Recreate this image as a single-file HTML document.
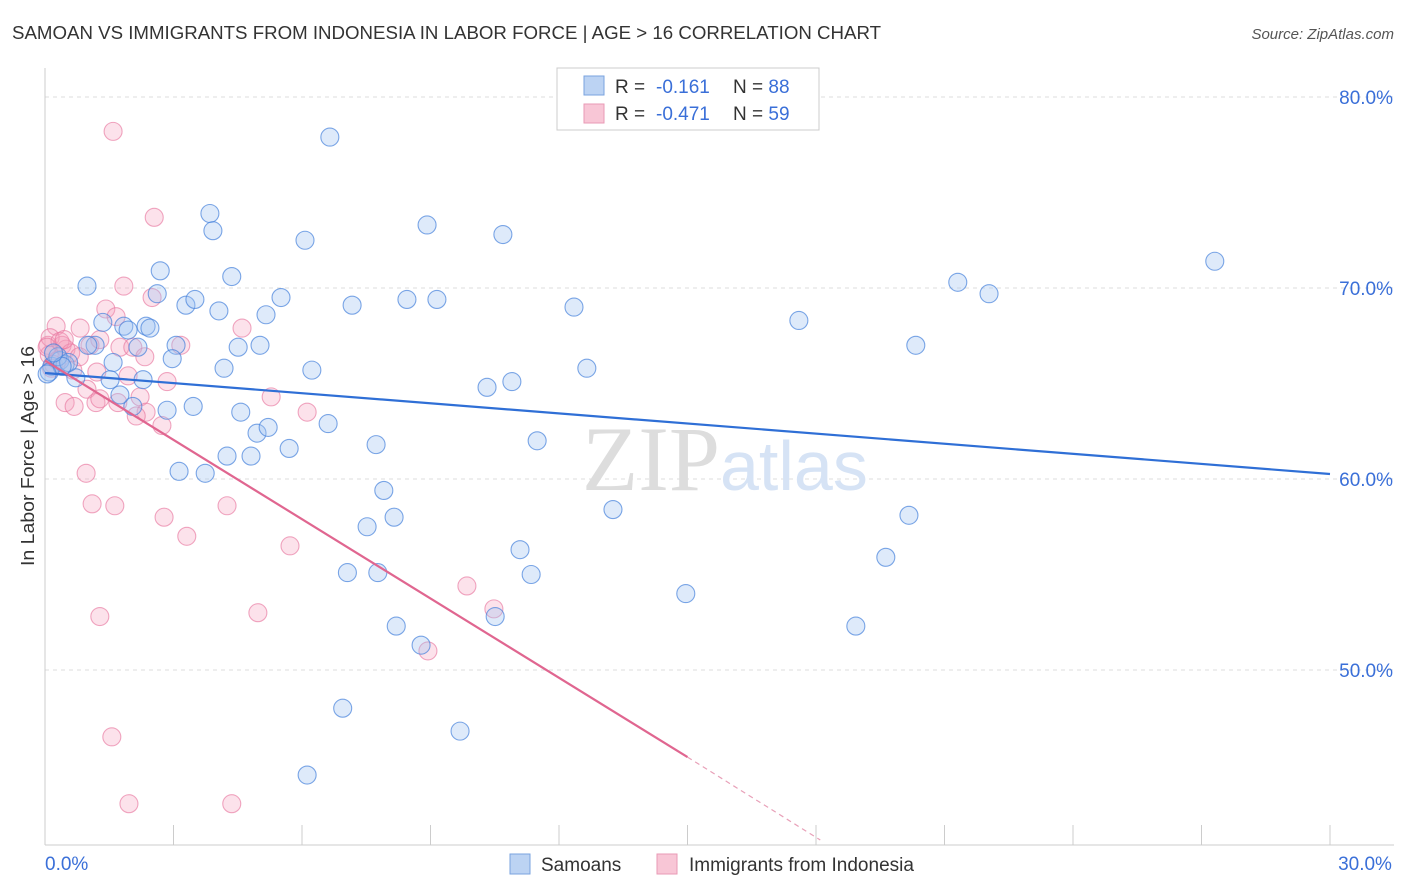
<!DOCTYPE html>
<html><head><meta charset="utf-8"><style>
body{margin:0;background:#fff;font-family:"Liberation Sans",sans-serif}
svg{display:block}
</style></head><body>
<svg id="chart" width="1406" height="892">
<text x="12" y="39" font-size="18" fill="#333" textLength="869" lengthAdjust="spacingAndGlyphs">SAMOAN VS IMMIGRANTS FROM INDONESIA IN LABOR FORCE | AGE &gt; 16 CORRELATION CHART</text>
<text x="1394" y="39" font-size="15" fill="#555" font-style="italic" text-anchor="end">Source: ZipAtlas.com</text>
<text transform="translate(34,456) rotate(-90)" font-size="18" fill="#333" text-anchor="middle" textLength="220" lengthAdjust="spacingAndGlyphs">In Labor Force | Age &gt; 16</text>
<g id="grid"></g>
<text x="720" y="490" font-size="92" fill="#ddd" text-anchor="end" font-family="Liberation Serif">ZIP</text>
<text x="720" y="490" font-size="70" fill="#d6e3f5">atlas</text>
<g id="pts"></g>
<g id="lines"></g>
<g>
<rect x="557" y="68" width="262" height="62" fill="#fff" stroke="#ccc"/>
<rect x="584" y="76" width="20" height="19" fill="#bcd3f3" stroke="#7aa3df"/>
<rect x="584" y="104" width="20" height="19" fill="#f8c6d6" stroke="#e99ab5"/>
<text x="615" y="93" font-size="19" fill="#333">R = <tspan x="656" fill="#3a6fd8">-0.161</tspan><tspan x="733">N = </tspan><tspan fill="#3a6fd8">88</tspan></text>
<text x="615" y="120" font-size="19" fill="#333">R = <tspan x="656" fill="#3a6fd8">-0.471</tspan><tspan x="733">N = </tspan><tspan fill="#3a6fd8">59</tspan></text>
</g>
<g>
<rect x="510" y="854" width="20" height="20" fill="#bcd3f3" stroke="#7aa3df"/>
<text x="541" y="871" font-size="19" fill="#333">Samoans</text>
<rect x="657" y="854" width="20" height="20" fill="#f8c6d6" stroke="#e99ab5"/>
<text x="689" y="871" font-size="19" fill="#333">Immigrants from Indonesia</text>
</g>
</svg>
<script>
const xTicks=[0,3,6,9,12,15,18,21,24,27,30];
const yTicks=[50,60,70,80];
const yTickLabels=["50.0%","60.0%","70.0%","80.0%"];
const xLabels=["0.0%","30.0%"];
const blueX=[0.16,0.35,0.47,0.98,0.72,1.17,1.35,1.59,1.52,1.84,1.94,2.17,2.29,2.36,2.45,2.05,1.75,2.69,2.62,3.06,2.97,2.85,3.46,3.13,3.74,3.29,3.50,3.85,3.92,4.06,4.36,4.18,4.51,4.57,4.25,4.81,5.02,5.16,5.51,4.95,5.21,5.70,6.07,6.23,6.65,6.61,7.17,7.06,6.95,6.12,7.73,7.91,7.52,7.77,8.15,8.20,8.45,8.78,8.92,9.15,9.69,10.32,10.51,10.69,10.90,11.09,11.35,11.49,12.35,12.65,13.26,14.96,14.01,17.60,18.93,19.63,20.17,20.33,21.31,22.04,27.31,0.1,0.3,0.55,0.4,0.2,1.0,0.05];
const blueY=[65.9,66.2,66.0,70.1,65.3,67.0,68.2,66.1,65.2,68.0,67.8,66.9,65.2,68.0,67.9,63.8,64.4,70.9,69.7,67.0,66.3,63.6,63.8,60.4,60.3,69.1,69.4,73.9,73.0,68.8,70.6,65.8,66.9,63.5,61.2,61.2,67.0,68.6,69.5,62.4,62.7,61.6,72.5,65.7,77.9,62.9,69.1,55.1,48.0,44.5,61.8,59.4,57.5,55.1,58.0,52.3,69.4,51.3,73.3,69.4,46.8,64.8,52.8,72.8,65.1,56.3,55.0,62.0,69.0,65.8,58.4,54.0,79.0,68.3,52.3,55.9,58.1,67.0,70.3,69.7,71.4,65.6,66.4,66.1,65.9,66.6,67.0,65.5];
const pinkX=[1.59,2.55,1.84,2.50,1.42,1.66,0.26,0.82,4.60,0.07,0.40,1.05,1.28,1.75,2.05,3.17,2.33,0.65,1.21,1.94,2.85,0.98,2.22,0.47,0.68,1.19,1.70,2.36,2.13,2.73,5.28,6.12,0.96,1.10,1.63,2.78,3.31,4.25,5.72,4.97,1.28,9.85,10.48,8.94,1.56,1.96,4.36,0.12,0.28,0.49,1.28,0.1,0.2,0.35,0.6,0.15,0.45,0.8,0.05];
const pinkY=[78.2,73.7,70.1,69.5,68.9,68.5,68.0,67.9,67.9,67.0,67.0,67.0,67.3,66.9,66.9,67.0,66.4,65.7,65.6,65.4,65.1,64.7,64.3,64.0,63.8,64.0,64.0,63.5,63.3,62.8,64.3,63.5,60.3,58.7,58.6,58.0,57.0,58.6,56.5,53.0,52.8,54.4,53.2,51.0,46.5,43.0,43.0,67.4,66.2,66.8,64.2,66.5,66.0,67.2,66.6,65.8,67.3,66.4,66.9];
const blueTrend=[65.55,60.26];
const pinkTrend=[66.2,45.44,41.1];
const pinkTrendX=[0,15,18.1];
const NS="http://www.w3.org/2000/svg";
const X=v=>45+v/30*1285, Y=v=>97+(80-v)*19.1;
function mk(t,a,p){const e=document.createElementNS(NS,t);for(const k in a)e.setAttribute(k,a[k]);p.appendChild(e);return e;}
const g=document.getElementById('grid');
yTicks.forEach((t,i)=>{
 const l=mk('line',{x1:45,x2:1394,y1:Y(t),y2:Y(t),stroke:'#ddd','stroke-dasharray':'4,4'},g);
 
 
 const tx=mk('text',{x:1393,y:Y(t)+7,'font-size':19,fill:'#3a6fd8','text-anchor':'end'},g);
 tx.textContent=yTickLabels[i];
 
 
});
const ax=mk('line',{x1:45,x2:45,y1:68,y2:845,stroke:'#ccc'},g);


const bx=mk('line',{x1:45,x2:1394,y1:845,y2:845,stroke:'#ccc'},g);


xTicks.forEach(t=>{
 const l=mk('line',{x1:X(t),x2:X(t),y1:825,y2:845,stroke:'#ccc'},g);
 
 
});
[[0,'start',xLabels[0]],[30,'middle',xLabels[1]]].forEach(([v,a,s])=>{
 const tx=mk('text',{x:v===0?45:1365,y:870,'font-size':19,fill:'#3a6fd8','text-anchor':a},g);
 tx.textContent=s;
 
 
});
const p=document.getElementById('pts');
pinkX.forEach((x,i)=>{
 const c=mk('circle',{cx:X(x),cy:Y(pinkY[i]),r:9,fill:'rgba(244,160,188,0.3)',stroke:'rgba(232,120,160,0.65)','stroke-width':1.1},p);
 
 
});
blueX.forEach((x,i)=>{
 const c=mk('circle',{cx:X(x),cy:Y(blueY[i]),r:9,fill:'rgba(160,195,240,0.35)',stroke:'rgba(70,130,220,0.7)','stroke-width':1.1},p);
 
 
});
const L=document.getElementById('lines');
const b=mk('line',{x1:X(0),y1:Y(blueTrend[0]),x2:X(30),y2:Y(blueTrend[1]),stroke:'#2f6fd6','stroke-width':2.2},L);


const pk=mk('line',{x1:X(pinkTrendX[0]),y1:Y(pinkTrend[0]),x2:X(pinkTrendX[1]),y2:Y(pinkTrend[1]),stroke:'#e06690','stroke-width':2.2},L);


const pd=mk('line',{x1:X(pinkTrendX[1]),y1:Y(pinkTrend[1]),x2:X(pinkTrendX[2]),y2:Y(pinkTrend[2]),stroke:'#e8a0b8','stroke-width':1.2,'stroke-dasharray':'5,4'},L);


</script>
</body></html>
